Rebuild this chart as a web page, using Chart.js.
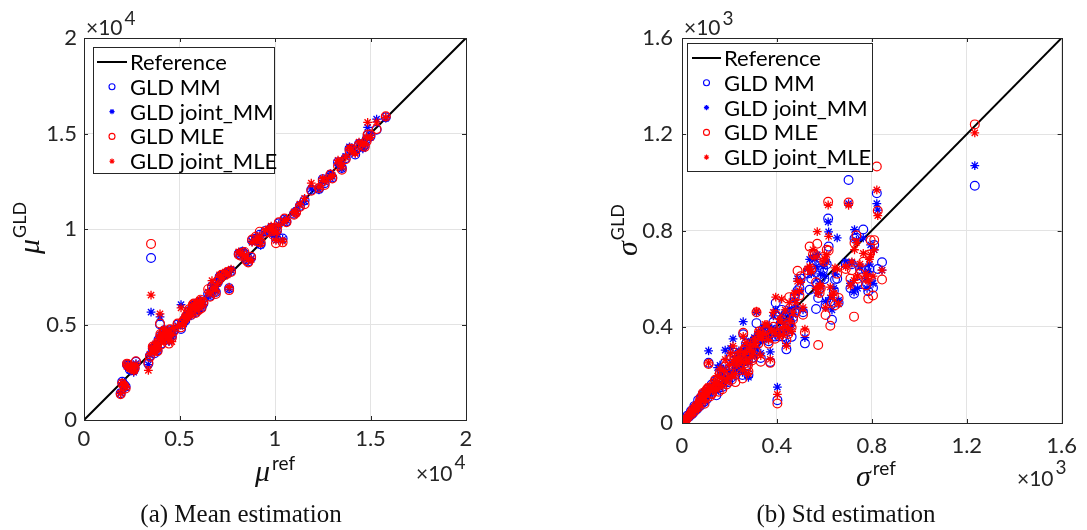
<!DOCTYPE html>
<html>
<head>
<meta charset="utf-8">
<script src="https://cdn.jsdelivr.net/npm/chart.js@4.4.1/dist/chart.umd.min.js"></script>
<style>
  html, body { margin: 0; padding: 0; background: #fff; }
  #wrap { position: relative; width: 1087px; height: 530px; overflow: hidden; }
  canvas { position: absolute; top: 0; }
  #cvA { left: 0; }
  #cvB { left: 543px; }
  .cap { position: absolute; top: 500px; font-family: "Liberation Serif", "DejaVu Serif", serif;
         font-size: 25px; color: #111; white-space: nowrap; transform: translateX(-50%); }
</style>
</head>
<body>
<div id="wrap">
  <canvas id="cvA" width="543" height="530"></canvas>
  <canvas id="cvB" width="544" height="530"></canvas>
  <div class="cap" style="left:241px">(a) Mean estimation</div>
  <div class="cap" style="left:846px">(b) Std estimation</div>
</div>
<script>
// ---- (a) mean: reference values and the four GLD estimates ----
const muRef = [1920, 2000, 2100, 2180, 2300, 2400, 2500, 2600, 2720, 3370, 3510, 3450, 3600, 3700, 3800,
  3980, 3900, 4050, 4150, 4250, 4350, 4450, 4550, 4700, 4900, 5080, 5200, 5350, 5500, 5600, 5700, 5800,
  5900, 6000, 6100, 6250, 6500, 6700, 6900, 7000, 7100, 7600, 7400, 7700, 8100, 8300, 8500, 8750, 8800,
  9000, 9250, 9200, 9700, 9900, 10050, 10200, 10400, 10500, 11000, 11300, 11550, 11900, 12300, 12500,
  12900, 13300, 13500, 13700, 13900, 14200, 14600, 14800, 14850, 15000, 15320, 15800,
  2250, 2650, 3650, 3750, 3850, 4000, 4100, 4200, 4300, 4400, 4500, 4600, 5150, 5300, 5450, 5650, 5750,
  5850, 5950, 6050, 6150, 6600, 6800, 7200, 7500, 8200, 8400, 8600, 9100, 9500, 9800, 9950, 10100, 10600,
  11100, 12600, 13000, 13400, 14000, 14400, 14700];
const muMM = [1400, 2000, 1850, 1750, 2850, 2650, 2800, 2600, 3050, 2950, 8480, 3350, 3750, 3500, 3800,
  5000, 4200, 4000, 4500, 4300, 4600, 4200, 4500, 4700, 5000, 4770, 5150, 5400, 5700, 5500, 5900, 5800,
  6100, 5800, 6200, 6100, 6600, 7000, 6700, 7200, 7500, 6900, 7650, 7800, 8700, 8800, 8400, 8500, 9400,
  9500, 9200, 9700, 9900, 9800, 9500, 10300, 9500, 10500, 10800, 11200, 11500, 12050, 12100, 12600,
  12800, 13500, 13200, 13700, 14200, 13900, 14300, 14700, 14900, 14850, 15200, 15850,
  2900, 2700, 3700, 3900, 3650, 4400, 4300, 4700, 4500, 4350, 4700, 4400, 5000, 5200, 5500, 5800, 6000,
  5650, 6000, 6150, 5900, 6500, 6850, 7550, 7700, 8650, 8700, 8300, 9400, 9900, 10050, 10000, 9900, 10400,
  10900, 12400, 12700, 13400, 14150, 14450, 14400];
const muJointMM = [1430, 1950, 1800, 1700, 2800, 2600, 2750, 2500, 2950, 2900, 5650, 3400, 3800, 3600, 3900,
  5400, 4150, 4100, 4400, 4350, 4700, 4100, 4550, 4750, 4950, 6040, 5250, 5500, 5600, 5550, 6000, 5750,
  6150, 5850, 6250, 6050, 6500, 7050, 6750, 7300, 7550, 6850, 7700, 7850, 8750, 8850, 8450, 8450, 9350,
  9550, 9150, 9650, 9950, 9750, 9600, 10250, 9450, 10450, 10850, 11250, 11450, 12100, 12050, 12550,
  12900, 13450, 13150, 13800, 14300, 14000, 14200, 14750, 15320, 14900, 15750, 15800,
  2850, 2650, 3650, 3950, 3700, 4350, 4250, 4650, 4450, 4300, 4650, 4350, 5050, 5250, 5450, 5850, 5950,
  5700, 6050, 6100, 5950, 6550, 6900, 7500, 7650, 8700, 8650, 8350, 9450, 9850, 10100, 9950, 9850, 10450,
  10950, 12450, 12750, 13350, 14250, 14500, 14450];
const muMLE = [1350, 1900, 1780, 1650, 2900, 2750, 2700, 2650, 3070, 3000, 9220, 3300, 3850, 3650, 3750,
  5050, 4100, 3950, 4550, 4200, 4650, 4000, 4600, 4650, 5050, 4850, 5200, 5450, 5800, 5600, 6050, 5700,
  6000, 5750, 6300, 6150, 6850, 6950, 6600, 7250, 7400, 6800, 7600, 7750, 8650, 8750, 8350, 8550, 9450,
  9600, 9300, 9860, 9850, 9700, 9260, 10350, 9300, 10550, 10750, 11150, 11300, 12000, 12150, 12500,
  12850, 13300, 13100, 13650, 14100, 14100, 14350, 14600, 14950, 14950, 15230, 15900,
  2950, 2750, 3800, 3850, 3600, 4500, 4350, 4600, 4400, 4450, 4750, 4300, 5100, 5300, 5600, 5750, 6100,
  5600, 5950, 6200, 5850, 6450, 6700, 7600, 7750, 8600, 8800, 8250, 9350, 9800, 10000, 10050, 9950, 10350,
  10850, 12300, 12650, 13500, 14200, 14400, 14300];
const muJointMLE = [1380, 1960, 1820, 1720, 2870, 2700, 2780, 2550, 2900, 2600, 6540, 3450, 3700, 3550, 3850,
  5560, 4250, 4050, 4450, 4400, 4550, 4150, 4480, 4800, 4900, 5870, 5100, 5350, 5750, 5450, 5950, 5850,
  6050, 5900, 6150, 6200, 6700, 7300, 6800, 7150, 7600, 6950, 7750, 7900, 8800, 8700, 8500, 8400, 9300,
  9450, 9250, 9600, 10000, 9850, 9400, 10200, 9350, 10400, 10900, 11300, 11600, 12400, 12200, 12650,
  12700, 13600, 13250, 13750, 14250, 13950, 14400, 14800, 15580, 14800, 15600, 15850,
  2800, 2600, 3750, 4000, 3750, 4450, 4200, 4750, 4550, 4250, 4600, 4100, 4950, 5350, 5550, 5900, 6050,
  5750, 6100, 6250, 6000, 6600, 6950, 7450, 7600, 8750, 8600, 8400, 9500, 9950, 10150, 9900, 9800, 10500,
  10800, 12500, 12800, 13450, 14100, 14550, 14500];

// ---- (b) std: reference values and the four GLD estimates ----
const sdRef = [15, 22, 30, 38, 45, 52, 60, 68, 75, 82, 90, 98, 105, 112, 118, 125, 135, 145, 150, 160,
  170, 182, 195, 205, 215, 225, 235, 245, 258, 265, 272, 280, 290, 300, 314, 322, 332, 345, 358, 372,
  385, 395, 402, 410, 420, 430, 440, 452, 462, 475, 487, 500, 518, 530, 538, 552, 565, 570, 574, 585,
  600, 605, 616, 618, 625, 632, 645, 654, 702, 716, 727, 725, 740, 764, 775, 785, 795, 805, 821, 825,
  843, 1234,
  8, 40, 55, 65, 78, 88, 95, 102, 110, 128, 140, 155, 165, 175, 188, 200, 210, 220, 230, 240, 250, 255,
  262, 270, 278, 285, 295, 305, 310, 325, 338, 350, 365, 378, 392, 415, 425, 435, 448, 455, 468, 480,
  495, 510, 545, 560, 580, 595, 610, 640, 660, 690, 710, 735, 750, 780, 790, 810];
const sdMM = [18, 30, 26, 50, 40, 70, 55, 95, 70, 110, 85, 130, 100, 250, 135, 160, 150, 115, 180, 205,
  150, 250, 170, 275, 230, 200, 265, 220, 369, 290, 240, 200, 330, 300, 415, 350, 270, 380, 395, 254,
  420, 500, 95, 360, 470, 395, 306, 460, 358, 520, 551, 600, 331, 621, 554, 640, 474, 580, 520, 600,
  598, 490, 850, 733, 505, 429, 596, 600, 1010, 660, 767, 537, 580, 804, 635, 548, 600, 562, 955, 640,
  668, 986,
  10, 35, 65, 60, 100, 120, 90, 115, 140, 130, 175, 145, 190, 210, 175, 230, 190, 260, 240, 290, 250, 200,
  280, 330, 260, 300, 270, 345, 320, 370, 350, 390, 340, 380, 360, 410, 360, 450, 380, 420, 440, 470,
  560, 460, 600, 660, 560, 640, 660, 550, 500, 660, 560, 770, 640, 580, 640, 740];
const sdJointMM = [12, 25, 35, 42, 48, 60, 68, 80, 82, 95, 100, 115, 118, 300, 128, 150, 140, 130, 230, 240,
  160, 303, 185, 310, 350, 215, 280, 250, 421, 300, 260, 190, 340, 285, 460, 365, 290, 395, 350, 296,
  445, 470, 149, 380, 445, 410, 330, 475, 404, 510, 600, 590, 355, 640, 680, 690, 650, 700, 540, 620,
  612, 505, 836, 794, 520, 470, 620, 769, 912, 665, 804, 545, 560, 769, 600, 630, 740, 580, 912, 885,
  635, 1070,
  8, 38, 60, 70, 92, 110, 100, 110, 130, 140, 165, 150, 200, 220, 180, 215, 200, 250, 230, 300, 240, 210,
  270, 320, 250, 310, 280, 355, 310, 375, 340, 400, 350, 395, 365, 420, 375, 460, 390, 430, 450, 480,
  545, 470, 620, 680, 580, 650, 670, 560, 510, 670, 580, 760, 650, 560, 660, 720];
const sdMLE = [10, 20, 32, 35, 55, 48, 72, 65, 90, 85, 120, 105, 140, 245, 110, 120, 165, 150, 175, 210,
  140, 235, 200, 265, 240, 170, 255, 240, 375, 310, 230, 215, 310, 270, 460, 330, 255, 365, 385, 250,
  400, 450, 81, 375, 430, 380, 345, 523, 397, 530, 633, 610, 376, 635, 733, 700, 585, 745, 324, 560,
  670, 449, 919, 717, 404, 500, 489, 620, 916, 635, 748, 442, 600, 670, 572, 517, 759, 530, 1066, 882,
  596, 1241,
  6, 45, 58, 75, 105, 125, 80, 130, 145, 125, 180, 130, 175, 205, 160, 225, 180, 275, 250, 280, 265, 185,
  300, 310, 240, 290, 260, 335, 300, 380, 360, 385, 330, 375, 350, 400, 380, 440, 370, 410, 430, 460,
  530, 450, 640, 700, 540, 690, 720, 530, 520, 640, 600, 780, 620, 600, 700, 760];
const sdJointMLE = [14, 24, 28, 44, 47, 58, 62, 75, 85, 100, 108, 125, 130, 250, 140, 145, 158, 140, 195, 225,
  155, 264, 190, 290, 320, 205, 270, 260, 360, 295, 255, 205, 325, 295, 465, 380, 280, 370, 410, 265,
  460, 523, 119, 360, 515, 400, 320, 500, 380, 540, 589, 585, 390, 640, 650, 720, 560, 795, 540, 570,
  684, 480, 906, 776, 565, 530, 645, 640, 905, 670, 720, 593, 610, 705, 620, 590, 700, 610, 969, 862,
  635, 1206,
  9, 40, 63, 68, 95, 115, 95, 120, 150, 135, 170, 160, 185, 215, 170, 240, 195, 265, 245, 295, 255, 220,
  285, 335, 255, 305, 275, 350, 330, 360, 355, 410, 345, 385, 375, 430, 365, 470, 395, 425, 460, 500,
  550, 480, 630, 690, 570, 670, 700, 540, 495, 650, 570, 750, 660, 610, 680, 720];

// diagonal y = x over each axis range
const muLine = [0, 20000];
const sdLine = [0, 1600];

const BLUE = 'rgb(0,0,255)';
const RED = 'rgb(255,0,0)';
const AXIS = '#262626';
const SANS = 'Lato, "Liberation Sans", sans-serif';
const TICK_FONT = { family: SANS, size: 22 };
const SERIF_IT = 'italic 30px "Liberation Serif", "DejaVu Serif", serif';

const pts = (xs, ys) => xs.map((v, i) => ({ x: v, y: ys[i] }));

function seriesSets(ref, mm, jmm, mle, jmle, line) {
  return [
    { label: 'Reference', data: pts(line, line), showLine: true, borderColor: '#000', borderWidth: 2,
      pointRadius: 0, order: 5, kind: 'line' },
    { label: 'GLD MM', data: pts(ref, mm), pointStyle: 'circle', pointRadius: 4.4, borderColor: BLUE,
      backgroundColor: 'rgba(0,0,0,0)', pointBorderWidth: 1.2, order: 4, kind: 'o', color: BLUE },
    { label: 'GLD joint_MM', data: pts(ref, jmm), pointStyle: 'star', pointRadius: 4.4, borderColor: BLUE,
      backgroundColor: BLUE, pointBorderWidth: 1.3, order: 3, kind: '*', color: BLUE },
    { label: 'GLD MLE', data: pts(ref, mle), pointStyle: 'circle', pointRadius: 4.4, borderColor: RED,
      backgroundColor: 'rgba(0,0,0,0)', pointBorderWidth: 1.2, order: 2, kind: 'o', color: RED },
    { label: 'GLD joint_MLE', data: pts(ref, jmle), pointStyle: 'star', pointRadius: 4.4, borderColor: RED,
      backgroundColor: RED, pointBorderWidth: 1.3, order: 1, kind: '*', color: RED }
  ];
}

function drawMarker(ctx, kind, color, x, y, r) {
  ctx.save();
  ctx.strokeStyle = color;
  ctx.lineWidth = 1.1;
  ctx.beginPath();
  if (kind === 'o') {
    ctx.arc(x, y, r, 0, Math.PI * 2);
  } else {
    for (let k = 0; k < 4; k++) {
      const a = k * Math.PI / 4;
      ctx.moveTo(x - r * Math.cos(a), y - r * Math.sin(a));
      ctx.lineTo(x + r * Math.cos(a), y + r * Math.sin(a));
    }
  }
  ctx.stroke();
  ctx.restore();
}

function supText(ctx, base, baseFont, sup, supFont, x, y, dy, gap) {
  ctx.font = baseFont;
  ctx.fillText(base, x, y);
  const w = ctx.measureText(base).width;
  ctx.font = supFont;
  ctx.fillText(sup, x + w + gap, y - dy);
}

// box, inward ticks, exponent labels, axis titles and legend
const framePlugin = {
  id: 'frame',
  afterDraw(chart, args, o) {
    const { ctx, chartArea: a, scales: { x, y } } = chart;
    ctx.save();
    ctx.strokeStyle = AXIS;
    ctx.lineWidth = 1;
    ctx.strokeRect(Math.round(a.left) + 0.5, Math.round(a.top) + 0.5,
      Math.round(a.right - a.left), Math.round(a.bottom - a.top));
    ctx.beginPath();
    const tl = 4;
    x.ticks.forEach(t => {
      const px = Math.round(x.getPixelForValue(t.value)) + 0.5;
      ctx.moveTo(px, a.bottom); ctx.lineTo(px, a.bottom - tl);
      ctx.moveTo(px, a.top); ctx.lineTo(px, a.top + tl);
    });
    y.ticks.forEach(t => {
      const py = Math.round(y.getPixelForValue(t.value)) + 0.5;
      ctx.moveTo(a.left, py); ctx.lineTo(a.left + tl, py);
      ctx.moveTo(a.right, py); ctx.lineTo(a.right - tl, py);
    });
    ctx.stroke();

    // exponent labels
    ctx.fillStyle = AXIS;
    ctx.textBaseline = 'alphabetic';
    ctx.textAlign = 'left';
    const fBase = '21px ' + SANS, fSup = '19px ' + SANS;
    supText(ctx, '\u00d710', fBase, o.exp, fSup, o.topExp[0], o.topExp[1], 10, 2);
    supText(ctx, '\u00d710', fBase, o.exp, fSup, o.botExp[0], o.botExp[1], 12, 2);

    // x-axis title
    ctx.fillStyle = '#111';
    supText(ctx, o.sym, SERIF_IT, 'ref', '19px ' + SANS, o.xTitle[0], o.xTitle[1], 11, 2);
    // y-axis title (rotated)
    ctx.save();
    ctx.translate(o.yTitle[0], o.yTitle[1]);
    ctx.rotate(-Math.PI / 2);
    supText(ctx, o.sym, SERIF_IT, 'GLD', '18px ' + SANS, 0, 0, 13, 1);
    ctx.restore();

    // legend
    const L = o.legend;
    ctx.fillStyle = '#fff';
    ctx.fillRect(L.x, L.y, L.w, L.h);
    ctx.strokeStyle = AXIS;
    ctx.lineWidth = 1;
    ctx.strokeRect(L.x + 0.5, L.y + 0.5, L.w, L.h);
    ctx.font = '22px ' + SANS;
    ctx.textBaseline = 'middle';
    chart.data.datasets.forEach((ds, i) => {
      const ry = L.y + L.row0 + i * L.dy;
      if (ds.kind === 'line') {
        ctx.strokeStyle = '#000';
        ctx.lineWidth = 2;
        ctx.beginPath();
        ctx.moveTo(L.x + L.l0, ry); ctx.lineTo(L.x + L.l1, ry);
        ctx.stroke();
      } else {
        drawMarker(ctx, ds.kind, ds.color, L.x + (L.l0 + L.l1) / 2, ry, ds.kind === 'o' ? 3 : 2.6);
      }
      ctx.fillStyle = '#000';
      ctx.fillText(ds.label, L.x + L.tx, ry + 1);
    });
    ctx.restore();
  }
};

function makeChart(id, sets, xMax, step, div, pad, yW, xH, tickPadY, tickPadX, frameOpts) {
  const axis = (w, isX) => ({
    type: 'linear', min: 0, max: xMax,
    grid: { color: '#e3e3e3', lineWidth: 1, drawTicks: false },
    border: { display: false },
    ticks: { stepSize: step, color: AXIS, font: TICK_FONT, padding: isX ? tickPadX : tickPadY,
             maxRotation: 0, autoSkip: false, callback: v => String(+(v / div).toFixed(2)) },
    afterFit: s => { if (isX) s.height = w; else s.width = w; }
  });
  return new Chart(document.getElementById(id), {
    type: 'scatter',
    data: { datasets: sets },
    options: {
      responsive: false, animation: false, events: [],
      layout: { padding: pad },
      scales: { x: axis(xH, true), y: axis(yW, false) },
      plugins: { legend: { display: false }, tooltip: { enabled: false }, frame: frameOpts }
    },
    plugins: [framePlugin]
  });
}

makeChart('cvA', seriesSets(muRef, muMM, muJointMM, muMLE, muJointMLE, muLine), 20000, 5000, 10000,
  { left: 0, top: 38, right: 77, bottom: 0 }, 84, 110, 7, 6, {
    exp: '4', topExp: [86, 35], botExp: [416, 481],
    sym: '\u03bc', xTitle: [255, 481], yTitle: [39, 254],
    legend: { x: 93, y: 47, w: 181, h: 126, row0: 15, dy: 24.8, l0: 4, l1: 34, tx: 37 }
  });

makeChart('cvB', seriesSets(sdRef, sdMM, sdJointMM, sdMLE, sdJointMLE, sdLine), 1600, 400, 1000,
  { left: 55, top: 38, right: 18, bottom: 0 }, 84, 107, 9, 10, {
    exp: '3', topExp: [141, 35], botExp: [474, 486],
    sym: '\u03c3', xTitle: [313, 486], yTitle: [94, 256],
    legend: { x: 144, y: 43, w: 185, h: 128, row0: 15, dy: 24.8, l0: 5, l1: 34, tx: 37 }
  });
</script>
</body>
</html>
